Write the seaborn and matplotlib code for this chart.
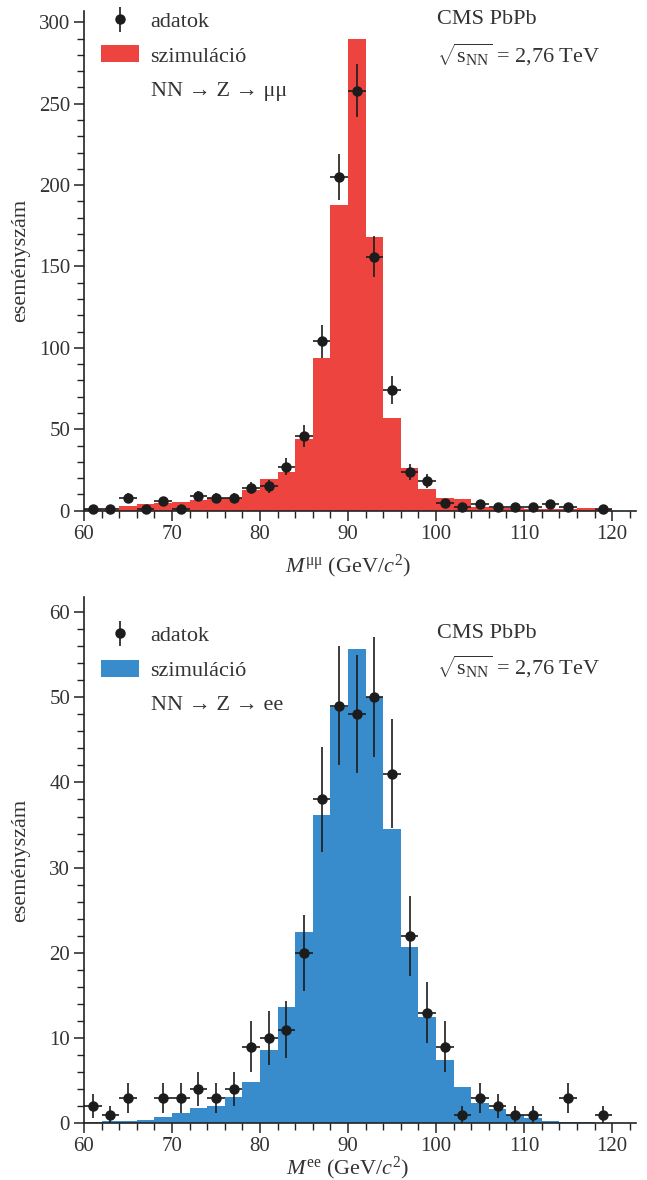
import numpy as np
import seaborn as sns
from matplotlib import pyplot as plt
from matplotlib.patches import Patch
from matplotlib.lines import Line2D
from matplotlib.ticker import MultipleLocator

# bin edges (GeV/c^2), 2 GeV wide
bin_edges = [60, 62, 64, 66, 68, 70, 72, 74, 76, 78, 80, 82, 84, 86, 88, 90,
             92, 94, 96, 98, 100, 102, 104, 106, 108, 110, 112, 114, 116, 118, 120, 122]
bin_centers = [61, 63, 65, 67, 69, 71, 73, 75, 77, 79, 81, 83, 85, 87, 89, 91,
               93, 95, 97, 99, 101, 103, 105, 107, 109, 111, 113, 115, 117, 119, 121]

# Z -> mumu
mu_sim = [0.8, 0.4, 2.7, 4.1, 4.9, 5.5, 6.3, 7.6, 7.6, 12.7, 19.2, 23.8, 43.8, 93.6, 188, 290,
          168, 57, 26, 13.1, 7.6, 7, 2, 1.6, 1.6, 1.2, 0.8, 0.8, 1.6, 0.8, 0]
mu_data_x = [61, 63, 65, 67, 69, 71, 73, 75, 77, 79, 81, 83, 85, 87, 89, 91, 93, 95, 97, 99,
             101, 103, 105, 107, 109, 111, 113, 115, 119]
mu_data_y = [1, 1, 8, 1, 6, 1, 9, 8, 8, 14, 15, 27, 46, 104, 205, 258, 156, 74, 24, 18,
             5, 2, 4, 2, 2, 2, 4, 2, 1]

# Z -> ee
ee_sim = [0.16, 0.24, 0.31, 0.43, 0.7, 1.25, 1.76, 2.03, 3.1, 4.8, 8.6, 13.7, 22.4, 36.2, 48.9, 55.6,
          50, 34.5, 20.7, 12.5, 7.45, 4.3, 2.35, 1.65, 0.98, 0.59, 0.31, 0.2, 0.12, 0.08, 0]
ee_data_x = [61, 63, 65, 69, 71, 73, 75, 77, 79, 81, 83, 85, 87, 89, 91, 93, 95, 97, 99,
             101, 103, 105, 107, 109, 111, 115, 119]
ee_data_y = [2, 1, 3, 3, 3, 4, 3, 4, 9, 10, 11, 20, 38, 49, 48, 50, 41, 22, 13,
             9, 1, 3, 2, 1, 1, 3, 1]

sns.set_style('ticks')
plt.rcParams['font.family'] = ['Liberation Serif', 'DejaVu Serif']
plt.rcParams['mathtext.fontset'] = 'custom'
plt.rcParams['mathtext.rm'] = 'Liberation Serif'
plt.rcParams['mathtext.it'] = 'Liberation Serif:italic'

text_col = '#333333'
dot_col = '#1c1c1c'

fig = plt.figure(figsize=(6.47, 11.8), dpi=100)
ax_top = fig.add_axes([0.1298, 0.5672, 0.853, 0.4236])
ax_bot = fig.add_axes([0.1298, 0.0480, 0.853, 0.446])

# axes, sim, data x, data y, colour, y max, major/minor y step, x label, process, text y, legend y, xlabel y
panels = [
    (ax_top, mu_sim, mu_data_x, mu_data_y, '#ee4440', 307, 50, 10,
     r'$M^{\mathrm{μμ}}$ (GeV/$c^2$)', 'NN → Z → μμ', (0.982, 0.912), 1.0, -0.085),
    (ax_bot, ee_sim, ee_data_x, ee_data_y, '#398ccb', 61.75, 10, 2,
     r'$M^{\mathrm{ee}}$ (GeV/$c^2$)', 'NN → Z → ee', (0.93, 0.868), 0.947, -0.06),
]

for ax, sim, dx, dy, col, ytop, ymaj, ymin, xlab, proc, ytxt, yleg, ylab in panels:
    sns.histplot(x=bin_centers, weights=sim, bins=bin_edges, element='step', fill=True,
                 color=col, alpha=1, linewidth=0, ax=ax)
    dy = np.array(dy, dtype=float)
    ax.errorbar(dx, dy, yerr=np.sqrt(dy), xerr=1, fmt='o', color=dot_col, ms=6.5,
                elinewidth=1.2, capsize=0, zorder=3, clip_on=False)

    ax.set_xlim(60, 122.7)
    ax.set_ylim(0, ytop)
    sns.despine(ax=ax)
    for s in ['left', 'bottom']:
        ax.spines[s].set_linewidth(1.2)
        ax.spines[s].set_color('#222222')
    ax.xaxis.set_major_locator(MultipleLocator(10))
    ax.xaxis.set_minor_locator(MultipleLocator(2))
    ax.yaxis.set_major_locator(MultipleLocator(ymaj))
    ax.yaxis.set_minor_locator(MultipleLocator(ymin))
    ax.tick_params(which='major', direction='out', length=7, width=1.1, color='#222222',
                   labelsize=15, labelcolor=text_col, pad=3)
    ax.tick_params(which='minor', direction='out', length=5, width=1.0, color='#222222')

    ax.set_xlabel(xlab, fontsize=16, color=text_col)
    ax.xaxis.set_label_coords(0.478, ylab)
    ax.set_ylabel('eseményszám', fontsize=16, color=text_col)
    ax.yaxis.set_label_coords(-0.098, 0.5)

    handles = [(Line2D([], [], color=dot_col, lw=0, marker='|', ms=18, mew=1.2),
                Line2D([], [], marker='o', color=dot_col, ms=6.5, lw=0)),
               Patch(facecolor=col, edgecolor='none'),
               Patch(facecolor='none', edgecolor='none')]
    leg = ax.legend(handles, ['adatok', 'szimuláció', proc], loc='upper left',
                    bbox_to_anchor=(0.03, yleg), frameon=False, fontsize=16,
                    handlelength=1.75, handleheight=0.8, handletextpad=0.5,
                    labelspacing=0.6, borderaxespad=0.0, borderpad=0.0)
    for t in leg.get_texts():
        t.set_color(text_col)

    ax.text(0.64, ytxt[0], 'CMS PbPb', transform=ax.transAxes, fontsize=16,
            color=text_col, va='center', ha='left')
    ax.text(0.64, ytxt[1], r'$\sqrt{\mathrm{s}_{\mathrm{NN}}}$ = 2,76 TeV', transform=ax.transAxes,
            fontsize=16, color=text_col, va='center', ha='left')

fig.savefig('out.png', dpi=100)
